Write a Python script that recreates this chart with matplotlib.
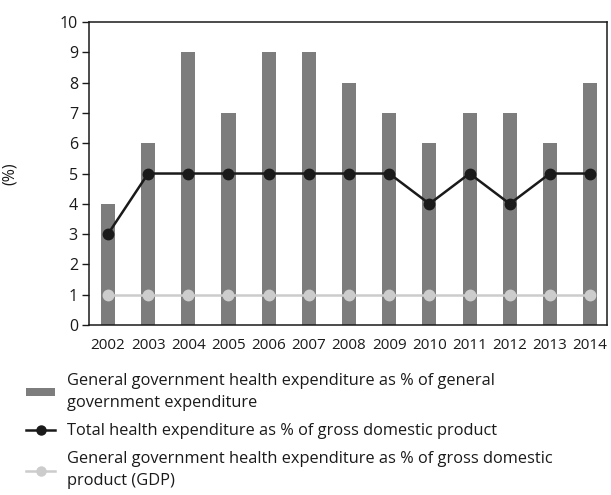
import matplotlib
matplotlib.use('Agg')
import matplotlib.pyplot as plt
from matplotlib.lines import Line2D
from matplotlib.patches import Patch

years = ['2002', '2003', '2004', '2005', '2006', '2007', '2008',
         '2009', '2010', '2011', '2012', '2013', '2014']
gov_health_of_gov = [4, 6, 9, 7, 9, 9, 8, 7, 6, 7, 7, 6, 8]
total_health_gdp = [3, 5, 5, 5, 5, 5, 5, 5, 4, 5, 4, 5, 5]
gov_health_gdp = [1, 1, 1, 1, 1, 1, 1, 1, 1, 1, 1, 1, 1]

label_bar = 'General government health expenditure as % of general\ngovernment expenditure'
label_total = 'Total health expenditure as % of gross domestic product'
label_gov = 'General government health expenditure as % of gross domestic\nproduct (GDP)'

plt.rcParams['font.family'] = ['Open Sans', 'DejaVu Sans']
bar_color = '#7d7d7d'
light = '#cccccc'
dark = '#1a1a1a'

fig = plt.figure(figsize=(6.11, 4.95), dpi=100)
ax = fig.add_axes([0.1457, 0.3434, 0.8478, 0.6121])

x = list(range(len(years)))
ax.bar(x, gov_health_of_gov, width=0.35, color=bar_color, zorder=1)
ax.plot(x, total_health_gdp, color=dark, lw=1.8, marker='o', ms=7.5, zorder=3)
ax.plot(x, gov_health_gdp, color=light, lw=1.8, marker='o', ms=7.5, zorder=2)

ax.set_xlim(-0.47, 12.42)
ax.set_ylim(0, 10)
ax.set_yticks(range(0, 11))
ax.set_xticks(x)
ax.set_xticklabels(years)
ax.tick_params(axis='x', length=0, pad=9, labelsize=11, colors=dark)
ax.tick_params(axis='y', length=5, width=1, labelsize=11.5, pad=3, direction='out', colors=dark)
for s in ax.spines.values():
    s.set_color(dark)
    s.set_linewidth(1.1)
ax.set_ylabel('(%)', fontsize=11.5, color=dark)
ax.yaxis.set_label_coords(-0.137, 0.5)

handles = [
    Patch(facecolor=bar_color, edgecolor='none'),
    Line2D([], [], color=dark, lw=1.8, marker='o', ms=6.5),
    Line2D([], [], color=light, lw=1.8, marker='o', ms=6.5),
]
leg = fig.legend(handles, [label_bar, label_total, label_gov], loc='upper left',
                 bbox_to_anchor=(0.043, 0.246), frameon=False, fontsize=11.8,
                 handlelength=1.75, handletextpad=0.72, labelspacing=0.75,
                 borderaxespad=0, borderpad=0, handleheight=0.4)
for t in leg.get_texts():
    t.set_color(dark)
    t.set_linespacing(1.45)

fig.savefig('out.png', dpi=100)
